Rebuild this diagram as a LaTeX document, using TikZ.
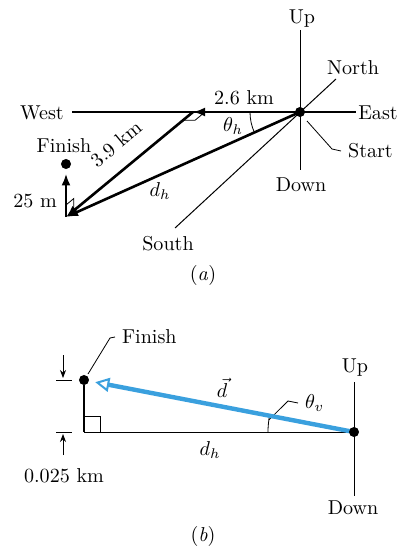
\documentclass[tikz,border=0pt]{standalone}
\usepackage{amsmath,amssymb}
\usepackage{tikz}
\usetikzlibrary{arrows.meta}
\definecolor{vecblue}{RGB}{58,160,222}

\begin{document}
\begin{tikzpicture}[
  x=0.0175cm, y=-0.0175cm,
  every node/.style={font=\normalsize},
  axis/.style={line width=0.5pt},
  disp/.style={line width=1.3pt, -{Latex[length=6pt,width=4.5pt]}},
  rtangle/.style={line width=0.4pt},
  lead/.style={line width=0.4pt},
  dot/.style={circle, fill=black, inner sep=0pt, minimum size=5pt},
  dvec/.style={vecblue, line width=2.2pt, shorten >=3pt,
    -{Triangle[fill=white, length=7pt, width=7pt, line width=1pt]}},
  dimarrow/.style={line width=0.4pt, -{Stealth[length=4pt,width=3pt]}},
]
\useasboundingbox (0,0) rectangle (397,547);
\coordinate (start) at (300,112);
\coordinate (corner) at (193,112);
\coordinate (base) at (66,217);
\coordinate (west) at (72,112);
\coordinate (east) at (356,112);
\coordinate (up) at (300,30);
\coordinate (down) at (300,170);
\coordinate (north) at (336,79);
\coordinate (south) at (175,228);
\node (lblup) at (302,19) {Up};
\node (lbldown) at (301,185) {Down};
\node (lblwest) at (42,113) {West};
\node (lbleast) at (378,113) {East};
\node (lblnorth) at (353,68) {North};
\node (lblsouth) at (168,244) {South};
\node[anchor=west] (lblstart) at (341,151) {Start};
\node (lblfinA) at (64,146) {Finish};
\node (lbl25) at (35,201) {25 m};
\node (lbl26) at (244,98) {2.6 km};
\node[rotate=39.6] (lbl39) at (116,144) {3.9 km};
\node (lbldh) at (160,191) {$d_h$};
\node (lblthh) at (233,126) {$\theta_h$};
\node (capa) at (203,275) {(\textit{a})};
\draw[axis] (west) -- (east);
\draw[axis] (up) -- (down);
\draw[axis] (north) -- (south);
\draw[lead] (307,121) -- (332,149) -- (lblstart.west);
\draw[rtangle] (corner) -- ++(-10,8.3) -- ++(12,0) -- ++(10,-8.3);
\draw[rtangle] (base) ++(0,-12) -- ++(7.7,-6.4) -- ++(0,12);
\draw (start) ++(180:50) arc[start angle=180, end angle=155.8, radius=50];
\node[dot] (finA) at (66,164) {};
\draw[disp] (start) -- (corner);
\draw[disp] (corner) -- (base);
\draw[disp] (start) -- (base);
\draw[disp, shorten >=2pt] (base) -- (finA);
\node[dot] (startA) at (start) {};
\coordinate (startB) at (354,432);
\coordinate (corB) at (84,432);
\coordinate (upB) at (354,382);
\coordinate (downB) at (354,496);
\coordinate (thv) at (268.8,420);
\node (lblupB) at (355,368) {Up};
\node (lbldownB) at (353,508) {Down};
\node[anchor=west] (lblfinB) at (115,337) {Finish};
\node (lbldvec) at (222,388) {$\vec{d}$};
\node (lbldhB) at (210,450) {$d_h$};
\node[anchor=west] (lblthv) at (298,403) {$\theta_v$};
\node (lbl025) at (64,476) {0.025 km};
\node (capb) at (203,536) {(\textit{b})};
\node[dot] (finB) at (84,380) {};
\draw[axis] (upB) -- (downB);
\draw[axis] (corB) -- (startB);
\draw[axis] (corB) -- (finB);
\draw[rtangle] (corB) ++(0,-16) -| ++(16,16);
\draw (startB) ++(180:86) arc[start angle=180, end angle=190.9, radius=86];
\draw[lead] (thv) -- (288,401) -- (lblthv.west);
\draw[lead] (finB) ++(4,-6) -- (110,338) -- (lblfinB.west);
\draw[lead] (56,380) -- (72,380);
\draw[lead] (56,432) -- (72,432);
\draw[dimarrow] (63,355) -- (63,378);
\draw[dimarrow] (63,455) -- (63,434);
\draw[dvec] (startB) -- (finB);
\node[dot] (originB) at (startB) {};
\end{tikzpicture}
\end{document}
